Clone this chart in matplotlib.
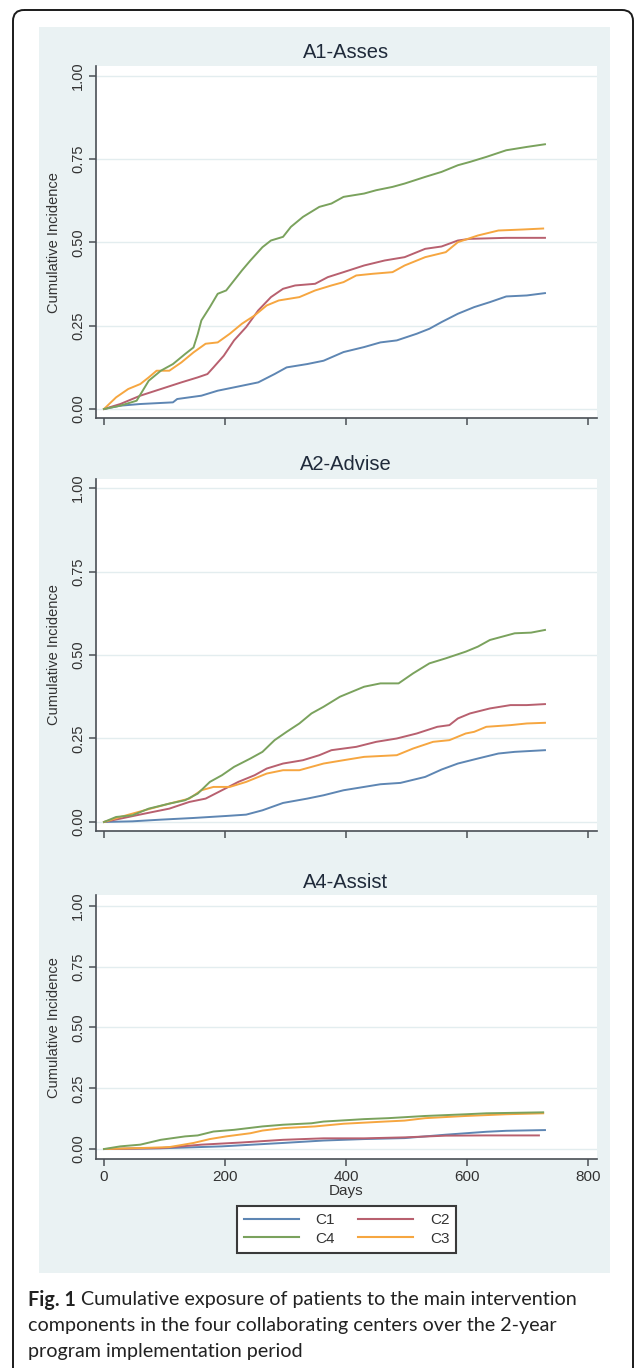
import matplotlib.pyplot as plt
import matplotlib.transforms as mtransforms
from matplotlib.patches import FancyBboxPatch, Rectangle
from matplotlib.lines import Line2D

# Cumulative incidence curves (days, cumulative incidence)
CENTERS = ["C1", "C2", "C3", "C4"]
PANEL_TITLES = ["A1-Asses", "A2-Advise", "A4-Assist"]
Y_TICKS = [0, 0.25, 0.5, 0.75, 1.0]
Y_TICK_LABELS = ["0.00", "0.25", "0.50", "0.75", "1.00"]
X_TICKS = [0, 200, 400, 600, 800]
X_TICK_LABELS = ["0", "200", "400", "600", "800"]

# A1 - Asses
a1_c1_days = [0, 27, 60, 114, 121, 161, 188, 215, 255, 282, 302, 336, 363, 396, 430,
              457, 484, 517, 538, 558, 585, 612, 638, 665, 699, 729]
a1_c1_vals = [0, 0.01, 0.015, 0.02, 0.03, 0.04, 0.055, 0.065, 0.08, 0.105, 0.125, 0.135,
              0.145, 0.171, 0.186, 0.2, 0.206, 0.226, 0.241, 0.261, 0.286, 0.306, 0.321,
              0.338, 0.341, 0.348]
a1_c2_days = [0, 27, 60, 94, 128, 155, 171, 181, 198, 215, 235, 255, 276, 296, 316, 349,
              370, 396, 430, 464, 497, 531, 558, 585, 605, 665, 729]
a1_c2_vals = [0, 0.015, 0.04, 0.06, 0.08, 0.095, 0.105, 0.125, 0.16, 0.206, 0.246, 0.296,
              0.336, 0.361, 0.371, 0.376, 0.396, 0.411, 0.431, 0.446, 0.456, 0.481, 0.488,
              0.506, 0.511, 0.514, 0.514]
a1_c3_days = [0, 20, 40, 60, 74, 87, 108, 128, 148, 168, 188, 208, 228, 249, 269, 289,
              323, 349, 376, 396, 417, 444, 477, 497, 531, 565, 585, 618, 652, 692, 726]
a1_c3_vals = [0, 0.035, 0.06, 0.075, 0.095, 0.115, 0.115, 0.14, 0.17, 0.196, 0.2, 0.226,
              0.256, 0.281, 0.311, 0.326, 0.336, 0.356, 0.371, 0.381, 0.401, 0.406, 0.411,
              0.431, 0.456, 0.471, 0.501, 0.521, 0.536, 0.539, 0.542]
a1_c4_days = [0, 27, 54, 74, 94, 114, 134, 148, 155, 161, 175, 188, 202, 215, 228, 242,
              262, 276, 296, 309, 329, 356, 376, 396, 430, 450, 477, 497, 531, 558, 585,
              605, 632, 665, 699, 729]
a1_c4_vals = [0, 0.01, 0.025, 0.085, 0.115, 0.135, 0.165, 0.185, 0.225, 0.266, 0.306,
              0.346, 0.356, 0.386, 0.416, 0.446, 0.486, 0.506, 0.517, 0.547, 0.577, 0.607,
              0.617, 0.637, 0.647, 0.657, 0.667, 0.677, 0.697, 0.712, 0.732, 0.742, 0.757,
              0.777, 0.787, 0.795]

# A2 - Advise
a2_c1_days = [0, 47, 94, 148, 202, 235, 262, 296, 336, 363, 396, 430, 457, 490, 531,
              558, 585, 618, 652, 679, 729]
a2_c1_vals = [0, 0.002, 0.007, 0.012, 0.018, 0.022, 0.035, 0.057, 0.07, 0.08, 0.095,
              0.105, 0.113, 0.117, 0.135, 0.157, 0.175, 0.19, 0.205, 0.21, 0.215]
a2_c2_days = [0, 27, 67, 108, 141, 168, 195, 222, 249, 269, 296, 329, 356, 376, 417,
              450, 484, 517, 551, 571, 585, 605, 638, 672, 699, 729]
a2_c2_vals = [0, 0.01, 0.025, 0.04, 0.06, 0.07, 0.095, 0.12, 0.14, 0.16, 0.175, 0.185,
              0.2, 0.215, 0.225, 0.24, 0.25, 0.265, 0.285, 0.29, 0.31, 0.325, 0.34, 0.35,
              0.35, 0.353]
a2_c3_days = [0, 27, 67, 108, 141, 161, 181, 208, 235, 269, 296, 323, 363, 396, 430,
              484, 511, 544, 571, 598, 612, 632, 672, 699, 729]
a2_c3_vals = [0, 0.015, 0.035, 0.055, 0.07, 0.095, 0.105, 0.105, 0.12, 0.145, 0.155,
              0.155, 0.175, 0.185, 0.195, 0.2, 0.22, 0.24, 0.245, 0.265, 0.27, 0.285,
              0.29, 0.295, 0.297]
a2_c4_days = [0, 20, 47, 74, 108, 134, 155, 175, 195, 215, 242, 262, 282, 302, 323, 343,
              363, 390, 410, 430, 457, 487, 511, 538, 565, 598, 618, 638, 679, 706, 729]
a2_c4_vals = [0, 0.015, 0.02, 0.04, 0.055, 0.065, 0.085, 0.12, 0.14, 0.165, 0.19, 0.21,
              0.245, 0.27, 0.295, 0.325, 0.345, 0.375, 0.39, 0.405, 0.415, 0.415, 0.445,
              0.475, 0.49, 0.51, 0.525, 0.545, 0.565, 0.567, 0.575]

# A4 - Assist
a4_c1_days = [0, 94, 195, 296, 363, 430, 497, 565, 632, 665, 729]
a4_c1_vals = [0, 0.003, 0.011, 0.025, 0.035, 0.041, 0.045, 0.059, 0.071, 0.075, 0.078]
a4_c2_days = [0, 94, 161, 228, 296, 363, 430, 497, 565, 632, 719]
a4_c2_vals = [0, 0.004, 0.018, 0.027, 0.038, 0.044, 0.044, 0.048, 0.055, 0.056, 0.056]
a4_c3_days = [0, 60, 108, 148, 175, 202, 242, 262, 296, 349, 396, 464, 497, 531, 598,
              665, 726]
a4_c3_vals = [0, 0.004, 0.008, 0.025, 0.041, 0.052, 0.065, 0.076, 0.086, 0.093, 0.104,
              0.113, 0.117, 0.127, 0.136, 0.143, 0.147]
a4_c4_days = [0, 27, 60, 94, 134, 155, 181, 215, 262, 296, 343, 363, 430, 470, 531,
              598, 632, 726]
a4_c4_vals = [0, 0.011, 0.018, 0.038, 0.052, 0.056, 0.072, 0.079, 0.093, 0.1, 0.106,
              0.113, 0.123, 0.127, 0.136, 0.143, 0.147, 0.151]

PANELS = [
    {"C1": (a1_c1_days, a1_c1_vals), "C2": (a1_c2_days, a1_c2_vals),
     "C3": (a1_c3_days, a1_c3_vals), "C4": (a1_c4_days, a1_c4_vals)},
    {"C1": (a2_c1_days, a2_c1_vals), "C2": (a2_c2_days, a2_c2_vals),
     "C3": (a2_c3_days, a2_c3_vals), "C4": (a2_c4_days, a2_c4_vals)},
    {"C1": (a4_c1_days, a4_c1_vals), "C2": (a4_c2_days, a4_c2_vals),
     "C3": (a4_c3_days, a4_c3_vals), "C4": (a4_c4_days, a4_c4_vals)},
]

COLORS = {"C1": "#5e86b3", "C2": "#b8606f", "C3": "#f6a640", "C4": "#7aa25d"}
BG = "#eaf2f3"
GRID = "#e3edef"
AXIS = "#4a4f55"
TEXT = "#333333"

W, H = 634, 1368
plt.rcParams["font.family"] = ["Liberation Sans", "DejaVu Sans"]

fig = plt.figure(figsize=(W / 100, H / 100), dpi=100)
fig.patch.set_facecolor("white")

# pixel transform with origin at top-left
px = mtransforms.Affine2D().scale(1 / W, -1 / H).translate(0, 1) + fig.transFigure

# outer rounded frame and light panel background
frame = FancyBboxPatch((13, 10), 620, 1400, boxstyle="round,pad=0,rounding_size=11",
                       transform=px, facecolor="none", edgecolor="#1a1a1a", lw=1.4)
fig.add_artist(frame)
fig.add_artist(Rectangle((39, 27), 571, 1246, transform=px, facecolor=BG,
                         edgecolor="none", zorder=0))

# axes boxes in pixels: (top, bottom, ylim_low, ylim_high)
boxes = [(66, 418, -0.027, 1.03), (479, 831, -0.027, 1.027), (895, 1159, -0.041, 1.045)]
title_y = [53, 465, 883]
left, right = 96, 597

for i, (top, bottom, ylo, yhi) in enumerate(boxes):
    ax = fig.add_axes([left / W, 1 - bottom / H, (right - left) / W, (bottom - top) / H])
    ax.set_facecolor("white")
    for c in CENTERS:
        days, vals = PANELS[i][c]
        ax.plot(days, vals, color=COLORS[c], lw=1.4, solid_joinstyle="round")
    ax.set_xlim(-13.2, 815)
    ax.set_ylim(ylo, yhi)
    ax.set_yticks(Y_TICKS)
    ax.set_yticklabels(Y_TICK_LABELS, rotation=90, va="center")
    ax.set_xticks(X_TICKS)
    ax.yaxis.grid(True, color=GRID, lw=1.0)
    ax.set_axisbelow(True)
    for s in ["top", "right"]:
        ax.spines[s].set_visible(False)
    for s in ["left", "bottom"]:
        ax.spines[s].set_color(AXIS)
        ax.spines[s].set_linewidth(1.2)
    ax.tick_params(axis="both", color=AXIS, width=1.1, length=5, labelcolor=TEXT)
    ax.tick_params(axis="y", labelsize=10.5, pad=3)
    ax.tick_params(axis="x", labelsize=11, pad=3)
    ax.set_ylabel("Cumulative Incidence", fontsize=10.5, color=TEXT)
    ax.yaxis.set_label_coords(-0.07, 0.5 * (0 - ylo + 1 - ylo) / (yhi - ylo))
    if i < 2:
        ax.tick_params(axis="x", labelbottom=False)
    else:
        ax.set_xticklabels(X_TICK_LABELS)
        ax.set_xlabel("Days", fontsize=11, color=TEXT, labelpad=0)
    fig.text(346 / W, 1 - title_y[i] / H, PANEL_TITLES[i], ha="center", va="center",
             fontsize=14.5, color="#1f2a3a")

# legend: row 1 C1, C2 ; row 2 C4, C3 (matplotlib fills column by column)
order = ["C1", "C4", "C2", "C3"]
handles = [Line2D([], [], color=COLORS[c], lw=1.5) for c in order]
leg = fig.legend(handles, order, loc="center", bbox_to_anchor=(346.5 / W, 1 - 1229.5 / H),
                 ncol=2, fontsize=11, frameon=True, fancybox=False, handlelength=3.6,
                 columnspacing=1.5, labelspacing=0.3, handletextpad=1.1,
                 borderpad=0.45, edgecolor="#3a3a3a", facecolor="white", framealpha=1)
leg.get_frame().set_linewidth(1.5)
for t in leg.get_texts():
    t.set_color(TEXT)

# caption
cap_font = ["Lato", "DejaVu Sans"]
cap_size = 14.2
cap_color = "#222222"
t1 = fig.text(28 / W, 1 - 1300 / H, "Fig. 1", fontsize=cap_size, fontweight="bold",
              family=cap_font, va="center", color=cap_color)
fig.canvas.draw()
bb = t1.get_window_extent()
fig.text((bb.x1 + 5) / W, 1 - 1300 / H,
         "Cumulative exposure of patients to the main intervention",
         fontsize=cap_size, family=cap_font, va="center", color=cap_color)
fig.text(28 / W, 1 - 1326 / H,
         "components in the four collaborating centers over the 2-year",
         fontsize=cap_size, family=cap_font, va="center", color=cap_color)
fig.text(28 / W, 1 - 1351 / H, "program implementation period",
         fontsize=cap_size, family=cap_font, va="center", color=cap_color)

fig.savefig("out.png", dpi=100)
